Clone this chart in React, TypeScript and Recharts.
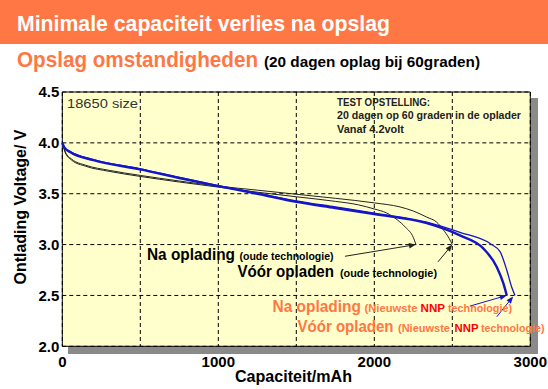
import React from "react";
import { LineChart, Line, XAxis, YAxis, CartesianGrid, ReferenceArea, ReferenceLine } from "recharts";

// capacity (mAh) / voltage (V)
const xTicks = [0, 500, 1000, 1500, 2000, 2500, 3000];
const yTicks = [2.0, 2.5, 3.0, 3.5, 4.0, 4.5];

const naOudeCap = [0, 20, 60, 150, 300, 500, 750, 1000, 1250, 1500, 1750, 1900, 2000, 2080, 2150, 2200, 2250, 2267];
const naOudeVolt = [4.0, 3.9, 3.83, 3.77, 3.72, 3.67, 3.615, 3.565, 3.515, 3.47, 3.425, 3.39, 3.35, 3.31, 3.24, 3.17, 3.07, 3.0];

const voorOudeCap = [0, 20, 60, 150, 300, 500, 750, 1000, 1250, 1500, 1750, 2000, 2165, 2250, 2336, 2400, 2440, 2480, 2500];
const voorOudeVolt = [4.0, 3.91, 3.84, 3.78, 3.73, 3.68, 3.625, 3.575, 3.535, 3.495, 3.455, 3.41, 3.37, 3.33, 3.27, 3.22, 3.15, 3.06, 3.0];

const naNnpCap = [0, 15, 50, 200, 500, 750, 1000, 1250, 1500, 1750, 2000, 2336, 2549, 2700, 2785, 2827, 2849];
const naNnpVolt = [4.0, 3.95, 3.91, 3.83, 3.74, 3.655, 3.575, 3.5, 3.42, 3.36, 3.3, 3.21, 3.09, 2.96, 2.78, 2.62, 2.5];

const voorNnpCap = [0, 15, 50, 200, 500, 750, 1000, 1250, 1500, 1750, 2000, 2336, 2549, 2742, 2806, 2849, 2881, 2902];
const voorNnpVolt = [4.0, 3.95, 3.915, 3.835, 3.745, 3.66, 3.58, 3.505, 3.43, 3.37, 3.31, 3.22, 3.12, 3.01, 2.93, 2.75, 2.58, 2.5];

// annotation arrows: [from, to] in data units
const arrowNaOude = [{ x: 1812, y: 2.885 }, { x: 2267, y: 3.0 }];
const arrowVoorOude = [{ x: 2408, y: 2.83 }, { x: 2500, y: 3.0 }];
const arrowNaNnp = [{ x: 2613, y: 2.395 }, { x: 2849, y: 2.5 }];
const arrowVoorNnp = [{ x: 2785, y: 2.29 }, { x: 2890, y: 2.49 }];

const toPoints = (cap: number[], volt: number[]) => cap.map((c, i) => ({ cap: c, v: volt[i] }));

const ORANGE = "#FF7744";
const BLUE = "#1414C8";
const FONT = "'Liberation Sans', Arial, sans-serif";

const arrowShape = (color: string) => (props: any) => {
  const { x1, y1, x2, y2 } = props;
  const a = Math.atan2(y2 - y1, x2 - x1);
  const L = 7;
  const W = 2.8;
  const bx = x2 - L * Math.cos(a);
  const by = y2 - L * Math.sin(a);
  const pts = `${x2},${y2} ${bx + W * Math.sin(a)},${by - W * Math.cos(a)} ${bx - W * Math.sin(a)},${by + W * Math.cos(a)}`;
  return (
    <g>
      <line x1={x1} y1={y1} x2={bx} y2={by} stroke={color} strokeWidth={1} />
      <polygon points={pts} fill={color} />
    </g>
  );
};

const T = ({ x, y, w, size, color = "#000", bold = true, children, anchor }: any) => (
  <text
    x={x}
    y={y}
    fontSize={size}
    fontWeight={bold ? "bold" : "normal"}
    fill={color}
    fontFamily={FONT}
    textLength={w}
    lengthAdjust="spacingAndGlyphs"
    textAnchor={anchor}
  >
    {children}
  </text>
);

export default function App() {
  return (
    <div style={{ position: "absolute", left: 0, top: 0, width: 548, height: 389, background: "#fff", overflow: "hidden" }}>
      <div style={{ position: "absolute", left: 0, top: 0, width: 548, height: 44, background: ORANGE }} />
      {/* plot shadow */}
      <div style={{ position: "absolute", left: 68, top: 346, width: 470, height: 8, background: "#8a8a8a" }} />
      <div style={{ position: "absolute", left: 531, top: 98, width: 7, height: 256, background: "#8a8a8a" }} />

      <div style={{ position: "absolute", left: 0, top: 0 }}>
        <LineChart width={548} height={389} margin={{ top: 92, right: 17.7, bottom: 12.7, left: 0 }}>
          <CartesianGrid stroke="#000" strokeDasharray="4 3" fill="#FFFFCC" fillOpacity={1} />
          <XAxis
            dataKey="cap"
            type="number"
            domain={[0, 3000]}
            ticks={xTicks}
            tickFormatter={(v: number) => (v % 1000 === 0 ? String(v) : "")}
            axisLine={false}
            tickLine={false}
            tickSize={0}
            tickMargin={10}
            height={30}
            tick={{ fill: "#000", fontSize: 15, fontWeight: "bold", fontFamily: FONT }}
            allowDuplicatedCategory={false}
          />
          <YAxis
            type="number"
            domain={[2, 4.5]}
            ticks={yTicks}
            tickFormatter={(v: number) => v.toFixed(1)}
            axisLine={false}
            tickLine={false}
            tickSize={0}
            tickMargin={3}
            width={62.3}
            tick={{ fill: "#000", fontSize: 15, fontWeight: "bold", fontFamily: FONT }}
          />
          <ReferenceArea x1={0} x2={3000} y1={2} y2={4.5} fill="none" fillOpacity={0} stroke="#000" strokeWidth={1} ifOverflow="visible" />
          <Line data={toPoints(voorOudeCap, voorOudeVolt)} dataKey="v" type="monotone" stroke="#222" strokeWidth={1} dot={false} isAnimationActive={false} />
          <Line data={toPoints(naOudeCap, naOudeVolt)} dataKey="v" type="monotone" stroke="#222" strokeWidth={1} dot={false} isAnimationActive={false} />
          <Line data={toPoints(voorNnpCap, voorNnpVolt)} dataKey="v" type="monotone" stroke={BLUE} strokeWidth={1.3} dot={false} isAnimationActive={false} />
          <Line data={toPoints(naNnpCap, naNnpVolt)} dataKey="v" type="monotone" stroke={BLUE} strokeWidth={2.4} dot={false} isAnimationActive={false} />
          <ReferenceLine segment={arrowNaOude} ifOverflow="visible" shape={arrowShape("#222")} />
          <ReferenceLine segment={arrowVoorOude} ifOverflow="visible" shape={arrowShape("#222")} />
          <ReferenceLine segment={arrowNaNnp} ifOverflow="visible" shape={arrowShape(BLUE)} />
          <ReferenceLine segment={arrowVoorNnp} ifOverflow="visible" shape={arrowShape(BLUE)} />
        </LineChart>
      </div>

      <svg width={548} height={389} style={{ position: "absolute", left: 0, top: 0, pointerEvents: "none" }}>
        <T x={17} y={31} w={373} size={22} color="#fff">Minimale capaciteit verlies na opslag</T>
        <T x={17} y={67} w={241} size={22} color={ORANGE}>Opslag omstandigheden</T>
        <T x={264} y={67} w={216} size={15}>(20 dagen oplag bij 60graden)</T>

        <T x={67} y={108} w={71} size={13} color="#333" bold={false}>18650 size</T>
        <T x={337} y={106} w={93} size={10.5} color="#222">TEST OPSTELLING:</T>
        <T x={337} y={119} w={184} size={11} color="#222">20 dagen op 60 graden in de oplader</T>
        <T x={337} y={133} w={67} size={11} color="#222">Vanaf 4.2volt</T>

        <T x={147} y={260} w={88} size={16}>Na oplading</T>
        <T x={239.5} y={260} w={94} size={11.5}>(oude technologie)</T>
        <T x={237.5} y={277} w={96.5} size={16}>Vóór opladen</T>
        <T x={340} y={277} w={97} size={11.5}>(oude technologie)</T>

        <T x={272.5} y={312} w={88.5} size={16} color={ORANGE}>Na oplading</T>
        <T x={364.5} y={312} w={53} size={11.5} color={ORANGE}>(Nieuwste</T>
        <T x={420.5} y={312} w={24.5} size={11.5} color="#FF0000">NNP</T>
        <T x={448} y={312} w={64} size={11.5} color={ORANGE}>technologie)</T>
        <T x={297.5} y={332} w={96} size={16} color={ORANGE}>Vóór opladen</T>
        <T x={398} y={332} w={52} size={11.5} color={ORANGE}>(Nieuwste</T>
        <T x={454.5} y={332} w={24} size={11.5} color="#FF0000">NNP</T>
        <T x={481} y={332} w={63.5} size={11.5} color={ORANGE}>technologie)</T>

        <T x={235} y={382} w={117} size={16}>Capaciteit/mAh</T>
        <g transform="translate(25.5,207) rotate(-90)">
          <T x={0} y={0} w={155} size={16} anchor="middle">Ontlading Voltage/ V</T>
        </g>
      </svg>
    </div>
  );
}
